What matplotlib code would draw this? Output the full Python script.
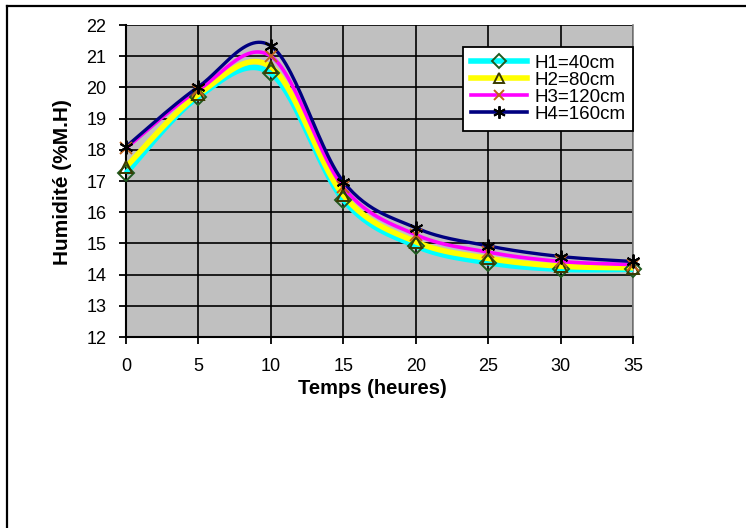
import numpy as np
import matplotlib
matplotlib.use("Agg")
import matplotlib.pyplot as plt
from matplotlib.lines import Line2D

plt.rcParams['font.family'] = ['Liberation Sans', 'DejaVu Sans']

# ---- data ----
temps = [0, 5, 10, 15, 20, 25, 30, 35]
h1 = [17.25, 19.70, 20.45, 16.40, 14.92, 14.38, 14.17, 14.17]
h2 = [17.45, 19.78, 20.66, 16.55, 15.05, 14.52, 14.27, 14.22]
h3 = [18.05, 19.92, 21.00, 16.80, 15.28, 14.72, 14.42, 14.32]
h4 = [18.10, 20.02, 21.33, 16.98, 15.50, 14.92, 14.58, 14.42]
labels = ['H1=40cm', 'H2=80cm', 'H3=120cm', 'H4=160cm']
yticks = [12, 13, 14, 15, 16, 17, 18, 19, 20, 21, 22]
xticks = [0, 5, 10, 15, 20, 25, 30, 35]


def smooth(x, y, n=30):
    """Excel-like smoothed line: cubic Bezier (Catmull-Rom) through points."""
    P = np.column_stack([x, y]).astype(float)
    m = len(P)
    out = []
    t = np.linspace(0, 1, n)[:, None]
    for i in range(m - 1):
        p0 = P[i]
        p3 = P[i + 1]
        pm = P[i - 1] if i > 0 else P[i]
        pp = P[i + 2] if i + 2 < m else P[i + 1]
        c1 = p0 + (p3 - pm) / 6.0
        c2 = p3 - (pp - p0) / 6.0
        seg = ((1 - t) ** 3) * p0 + 3 * ((1 - t) ** 2) * t * c1 + 3 * (1 - t) * t ** 2 * c2 + t ** 3 * p3
        out.append(seg if i == 0 else seg[1:])
    s = np.vstack(out)
    return s[:, 0], s[:, 1]


W, H = 746, 528
fig = plt.figure(figsize=(W / 100, H / 100), dpi=100)
L, R, T, B = 126, 633, 25, 337
ax = fig.add_axes([L / W, 1 - B / H, (R - L) / W, (B - T) / H])
ax.set_facecolor('#C0C0C0')

series = [h1, h2, h3, h4]
line_colors = ['#00FFFF', '#FFFF00', '#FF00FF', '#000080']
line_widths = [4.0, 4.0, 2.6, 2.4]
markers = ['D', '^', 'x', (6, 2, 0)]
mcolors = ['#1f5a1f', '#3a3a00', '#c0601a', '#000000']
msizes = [8, 8, 8, 10]

for ys, c, lw in zip(series, line_colors, line_widths):
    sx, sy = smooth(temps, ys)
    ax.plot(sx, sy, color=c, lw=lw, solid_capstyle='butt', zorder=3, clip_on=False)

for ys, mk, mc, ms in zip(series, markers, mcolors, msizes):
    ax.plot(temps, ys, linestyle='none', marker=mk, markersize=ms,
            markerfacecolor='none', markeredgecolor=mc, markeredgewidth=1.4,
            zorder=4, clip_on=False)

ax.set_xlim(0, 35)
ax.set_ylim(12, 22)
ax.set_xticks(xticks)
ax.set_yticks(yticks)
ax.grid(True, color='black', lw=1.2, zorder=1)
ax.set_axisbelow(True)
ax.tick_params(axis='both', direction='out', length=5, width=1.3, labelsize=13, colors='black')
ax.tick_params(axis='x', pad=10)
ax.tick_params(axis='y', pad=9)
for s in ['left', 'bottom']:
    ax.spines[s].set_color('black')
    ax.spines[s].set_linewidth(1.5)
ax.spines['top'].set_visible(False)
ax.spines['right'].set_color('#808080')
ax.spines['right'].set_linewidth(1.2)

ax.set_xlabel('Temps (heures)', fontsize=14.5, fontweight='bold', va='center')
ax.xaxis.set_label_coords((372 - L) / (R - L), -(388 - B) / (B - T))
ax.set_ylabel('Humidité (%M.H)', fontsize=15, fontweight='bold', va='center')
ax.yaxis.set_label_coords(-(L - 62) / (R - L), (B - 182) / (B - T))

handles = []
for c, lw, mk, mc, ms in zip(line_colors, line_widths, markers, mcolors, msizes):
    handles.append(Line2D([], [], color=c, lw=4.0 if lw > 3 else 2.6, marker=mk, markersize=ms - 1,
                          markerfacecolor='none', markeredgecolor=mc, markeredgewidth=1.4))
leg = ax.legend(handles, labels, loc='upper right', bbox_to_anchor=(633 / W, 1 - 47 / H),
                bbox_transform=fig.transFigure, fontsize=13.5, frameon=True, fancybox=False,
                handlelength=3.0, handletextpad=0.4, labelspacing=0.0, borderpad=0.4,
                borderaxespad=0)
leg.get_frame().set_edgecolor('black')
leg.get_frame().set_linewidth(1.3)
leg.get_frame().set_facecolor('white')
leg.get_frame().set_alpha(1)

# outer border (top & left)
fig.add_artist(Line2D([7 / W, 1], [1 - 6 / H, 1 - 6 / H], color='black', lw=1.6, transform=fig.transFigure))
fig.add_artist(Line2D([7 / W, 7 / W], [0, 1 - 6 / H], color='black', lw=1.6, transform=fig.transFigure))

fig.savefig('out.png', dpi=100)
